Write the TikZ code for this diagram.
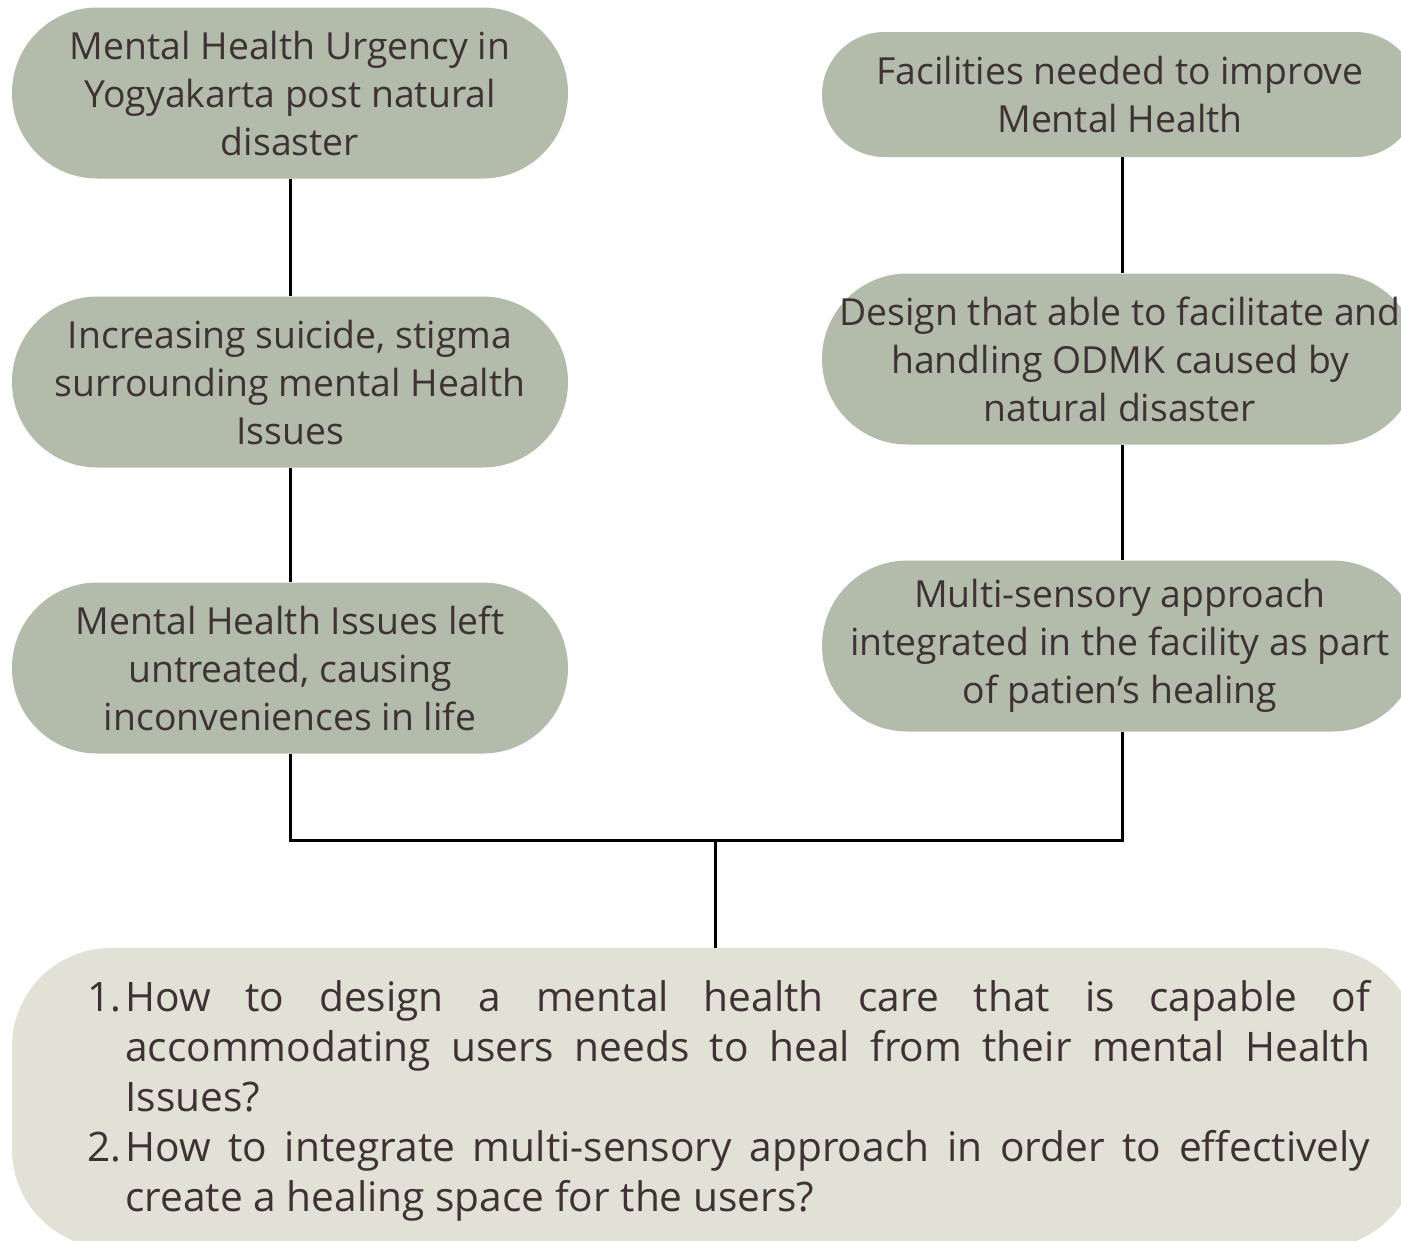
\documentclass[tikz,border=0pt]{standalone}
\usepackage{fontspec}
\setmainfont{Open Sans}
\definecolor{pillc}{HTML}{B3BCAB}
\definecolor{qc}{HTML}{E1E1D6}
\definecolor{txt}{HTML}{3E3234}
\begin{document}
\begin{tikzpicture}[x=0.75pt,y=-0.75pt,
  pill/.style={fill=pillc, draw=none, inner sep=0pt, align=center, text=txt,
    font=\fontsize{28pt}{36pt}\selectfont},
  tall/.style={pill, minimum width=417pt, minimum height=128.25pt, rounded corners=64pt},
  wide/.style={pill, minimum width=447pt, minimum height=128.25pt, rounded corners=64pt},
  short/.style={pill, minimum width=447pt, minimum height=93.75pt, rounded corners=46.8pt},
  qtext/.style={inner sep=0pt, text=txt, font=\fontsize{30.5pt}{37.5pt}\selectfont},
  link/.style={line width=2.25pt, draw=black}]
\useasboundingbox (0,0) rectangle (1401,1240);
\begin{scope}
\clip (0,0) rectangle (1401,1240);
% left column
\node[tall] (L1) at (290,93) {Mental Health Urgency in\\Yogyakarta post natural\\disaster};
\node[tall] (L2) at (290,382) {Increasing suicide, stigma\\surrounding mental Health\\Issues};
\node[tall] (L3) at (290,668) {Mental Health Issues left\\untreated, causing\\inconveniences in life};
% right column
\node[short] (R1) at (1120,94.5) {Facilities needed to improve\\Mental Health};
\node[wide] (R2) at (1120,359) {Design that able to facilitate and\\handling ODMK caused by\\natural disaster};
\node[wide] (R3) at (1120,646) {Multi-sensory approach\\integrated in the facility as part\\of patien’s healing};
% bottom box
\node[fill=qc, draw=none, minimum width=1054.5pt, minimum height=225pt, rounded corners=74pt, inner sep=0pt] (Q) at (715,1098) {};
\node[qtext, anchor=base west] (n1) at (87,1011) {1.};
\node[qtext, anchor=base west, text width=933.75pt, align=justify] (t1) at (125,1011)
  {How to design a mental health care that is capable of\linebreak accommodating users needs to heal from their mental Health\linebreak Issues?};
\node[qtext, anchor=base west] (n2) at (87,1161) {2.};
\node[qtext, anchor=base west, text width=933.75pt, align=justify] (t2) at (125,1161)
  {How to integrate multi-sensory approach in order to effectively\linebreak create a healing space for the users?};
% connectors
\coordinate (jl) at (290,840);
\coordinate (jr) at (1122,840);
\coordinate (jm) at (715,840);
\draw[link] (L1.south) -- (L2.north);
\draw[link] (L2.south) -- (L3.north);
\draw[link] ([xshift=1.5pt]R1.south) -- ([xshift=1.5pt]R2.north);
\draw[link] ([xshift=1.5pt]R2.south) -- ([xshift=1.5pt]R3.north);
\draw[link] (L3.south) -- (jl) -- (jr) -- ([xshift=1.5pt]R3.south);
\draw[link] (jm) -- (Q.north);
\end{scope}
\end{tikzpicture}
\end{document}
